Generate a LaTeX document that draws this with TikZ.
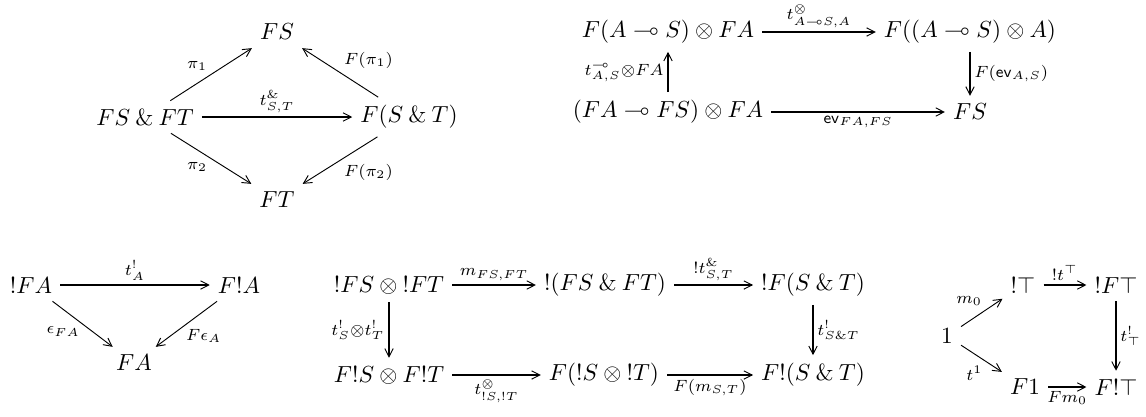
\documentclass[tikz,border=0pt]{standalone}
\usepackage{amssymb}
\usetikzlibrary{arrows.meta}

\begin{document}
\begin{tikzpicture}[
    x=0.43pt, y=-0.43pt,
    arr/.style={-{Straight Barb[length=3.5pt,width=3.6pt,line width=0.4pt]}, line width=0.8pt},
    diag/.style={arr, line width=0.4pt},
    lbl/.style={inner sep=1.5pt, execute at begin node=$\scriptstyle, execute at end node=$},
    ]
    \useasboundingbox (0,0) rectangle (1146,416);

    \node (fs)   at (277,32)  {$FS$};
    \node (fsft) at (145,117) {$FS \mathbin{\&} FT$};
    \node (fst)  at (409,117) {$F(S \mathbin{\&} T)$};
    \node (ft)   at (277,200) {$FT$};
    \draw[diag] (fsft) -- node[lbl,above left] {\pi_1} (fs);
    \draw[diag] (fsft) -- node[lbl,below left] {\pi_2} (ft);
    \draw[diag] (fst) -- node[lbl,above right] {F(\pi_1)} (fs);
    \draw[diag] (fst) -- node[lbl,below right] {F(\pi_2)} (ft);
    \draw[arr] (fsft) -- node[lbl,above] {t^{\&}_{S,T}} (fst);

    \node (flsfa)  at (668,32)  {$F(A \multimap S) \otimes FA$};
    \node (flsa)   at (970,32)  {$F((A \multimap S) \otimes A)$};
    \node (fafsfa) at (668,112) {$(FA \multimap FS) \otimes FA$};
    \node (fs2)    at (970,112) {$FS$};
    \draw[arr] (flsfa) -- node[lbl,above] {t^{\otimes}_{A \multimap S,A}} (flsa);
    \draw[arr] (flsa) -- node[lbl,right] {F(\mathsf{ev}_{A,S})} (fs2);
    \draw[arr] (fafsfa) -- node[lbl,left] {t^{\multimap}_{A,S}\otimes FA} (flsfa);
    \draw[arr] (fafsfa) -- node[lbl,below] {\mathsf{ev}_{FA,FS}} (fs2);

    \node (bfa) at (31,285)  {${!}FA$};
    \node (fba) at (239,285) {$F{!}A$};
    \node (fa)  at (134,363) {$FA$};
    \draw[arr] (bfa) -- node[lbl,above] {t^{!}_{A}} (fba);
    \draw[diag] (bfa) -- node[lbl,below left,inner sep=1pt] {\epsilon_{FA}} (fa);
    \draw[diag] (fba) -- node[lbl,below right,inner sep=1pt,pos=0.55] {F\epsilon_{A}} (fa);

    \node (bfsbft) at (389,285) {${!}FS \otimes {!}FT$};
    \node (bfsft)  at (605,285) {${!}(FS \mathbin{\&} FT)$};
    \node (bfst)   at (813,285) {${!}F(S \mathbin{\&} T)$};
    \node (fbsfbt) at (389,375) {$F{!}S \otimes F{!}T$};
    \node (fbsbt)  at (604,375) {$F({!}S \otimes {!}T)$};
    \node (fbst)   at (813,375) {$F{!}(S \mathbin{\&} T)$};
    \draw[arr] (bfsbft) -- node[lbl,above] {m_{FS,FT}} (bfsft);
    \draw[arr] (bfsft) -- node[lbl,above] {{!}t^{\&}_{S,T}} (bfst);
    \draw[arr] (bfsbft) -- node[lbl,left] {t^{!}_{S}\otimes t^{!}_{T}} (fbsfbt);
    \draw[arr] (bfst) -- node[lbl,right] {t^{!}_{S\&T}} (fbst);
    \draw[arr] (fbsfbt) -- node[lbl,below] {t^{\otimes}_{!S,!T}} (fbsbt);
    \draw[arr] (fbsbt) -- node[lbl,below] {F(m_{S,T})} (fbst);

    \node (one) at (947,336)  {$1$};
    \node (bt)  at (1023,285) {${!}\top$};
    \node (bft) at (1116,285) {${!}F\top$};
    \node (f1)  at (1025,387) {$F1$};
    \node (fbt) at (1116,387) {$F{!}\top$};
    \draw[diag] (one) -- node[lbl,above left,pos=0.6] {m_0} (bt);
    \draw[diag] (one) -- node[lbl,below left,pos=0.62] {t^{1}} (f1);
    \draw[arr] (bt) -- node[lbl,above] {{!}t^{\top}} (bft);
    \draw[arr] (bft) -- node[lbl,right] {t^{!}_{\top}} (fbt);
    \draw[arr] (f1) -- node[lbl,below] {Fm_0} (fbt);
\end{tikzpicture}
\end{document}
